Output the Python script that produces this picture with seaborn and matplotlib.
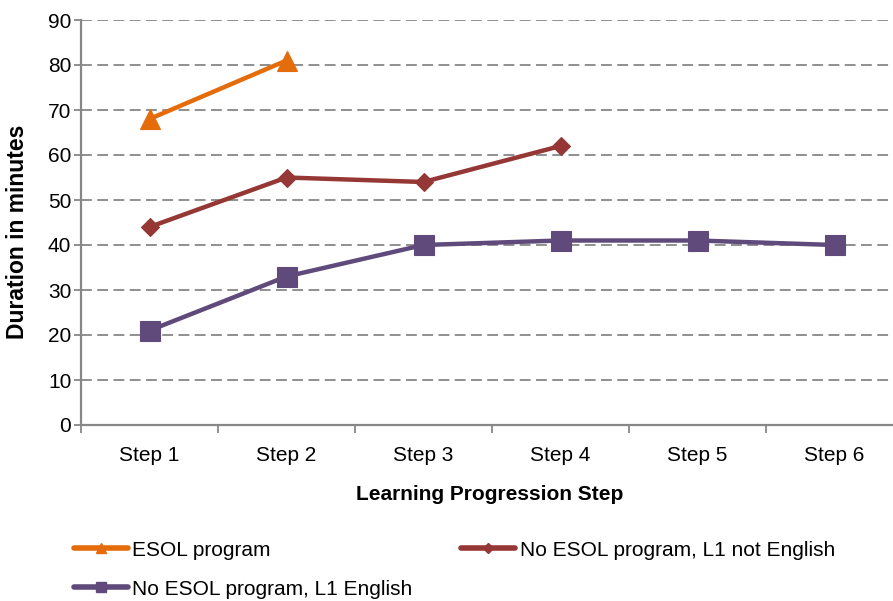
import matplotlib
matplotlib.use("Agg")
import matplotlib.pyplot as plt
import seaborn as sns
import pandas as pd
from matplotlib.lines import Line2D
from matplotlib.ticker import FixedLocator, MultipleLocator

steps = ["Step 1", "Step 2", "Step 3", "Step 4", "Step 5", "Step 6"]
esol = [68, 81]
l1_not_english = [44, 55, 54, 62]
l1_english = [21, 33, 40, 41, 41, 40]

names = ["ESOL program", "No ESOL program, L1 not English", "No ESOL program, L1 English"]
colors = ["#E46C0A", "#953735", "#604A7B"]
markers = ["^", "D", "s"]
msizes = [14, 9, 14]
series = [esol, l1_not_english, l1_english]

sns.set_style("white")
plt.rcParams["font.family"] = ["Liberation Sans", "DejaVu Sans"]
plt.rcParams["text.color"] = "black"
plt.rcParams["axes.labelcolor"] = "black"
plt.rcParams["xtick.color"] = "black"
plt.rcParams["ytick.color"] = "black"

fig = plt.figure(figsize=(8.93, 6.01), dpi=100)
ax = fig.add_axes([81 / 893, (601 - 425) / 601, (903 - 81) / 893, (425 - 20) / 601])

for name, vals, c, m, ms in zip(names, series, colors, markers, msizes):
    df = pd.DataFrame({"x": list(range(len(vals))), "y": vals})
    sns.lineplot(data=df, x="x", y="y", ax=ax, color=c, linewidth=3.2,
                 marker=m, markersize=ms, markeredgecolor=c, markeredgewidth=0.8,
                 zorder=3, label=None)

ax.set_xlim(-0.5, 5.5)
ax.set_ylim(0, 90)
ax.yaxis.set_major_locator(MultipleLocator(10))
ax.yaxis.grid(True, linestyle=(0, (6, 3)), color="#878787", linewidth=1.3)
ax.xaxis.grid(False)
ax.set_axisbelow(True)

ax.xaxis.set_major_locator(FixedLocator([i - 0.5 for i in range(7)]))
ax.xaxis.set_minor_locator(FixedLocator(list(range(6))))
ax.set_xticklabels([])
ax.set_xticklabels(steps, minor=True)
ax.tick_params(axis="x", which="major", bottom=True, length=6, width=1.3,
               color="#878787", direction="out")
ax.tick_params(axis="x", which="minor", bottom=True, length=0, pad=15, labelsize=15,
               labelcolor="black")
ax.tick_params(axis="y", which="major", left=True, length=5, width=1.3, color="#878787",
               direction="out", labelsize=15, pad=2, labelcolor="black")

for s in ["top", "right"]:
    ax.spines[s].set_visible(False)
for s in ["left", "bottom"]:
    ax.spines[s].set_color("#878787")
    ax.spines[s].set_linewidth(1.6)

ax.set_xlabel("Learning Progression Step", fontsize=15, fontweight="bold")
ax.set_ylabel("Duration in minutes", fontsize=16.5, fontweight="bold")
ax.xaxis.set_label_coords((490 - 81) / 822, -0.148)
ax.yaxis.set_label_coords(-52 / 822, (425 - 232) / 405)

handles = [Line2D([0], [0], color=c, linewidth=4, marker=m, markersize=ms * 0.55,
                  markeredgecolor=c, solid_capstyle="round")
           for c, m, ms in zip(colors, markers, msizes)]
order = [0, 2, 1]
fig.legend([handles[i] for i in order], [names[i] for i in order],
           loc="upper left", bbox_to_anchor=(55 / 893, 1 - 522 / 601), ncol=2,
           frameon=False, fontsize=15, handlelength=2.6, handletextpad=0.2,
           columnspacing=2.35, labelspacing=0.95)

fig.savefig("out.png", dpi=100)
